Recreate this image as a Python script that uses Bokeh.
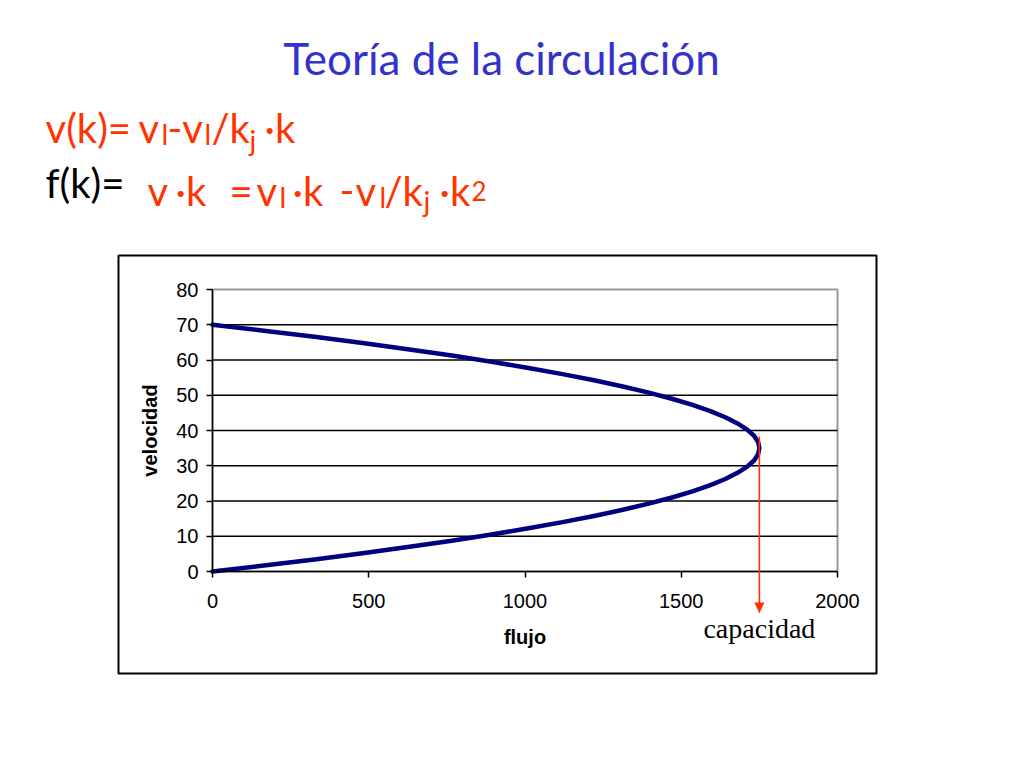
from bokeh.plotting import figure
from bokeh.models import Range1d, FixedTicker, Label, PolyAnnotation
from bokeh.embed import file_html
from bokeh.resources import INLINE

# ---- data ----
flujo = [0, 171, 333, 486, 630, 766, 893, 1011, 1120, 1221, 1313, 1396, 1470,
         1536, 1593, 1641, 1680, 1711, 1733, 1746, 1750,
         1746, 1733, 1711, 1680, 1641, 1593, 1536, 1470, 1396, 1313, 1221,
         1120, 1011, 893, 766, 630, 486, 333, 171, 0]
velocidad = [70, 68.25, 66.5, 64.75, 63, 61.25, 59.5, 57.75, 56, 54.25, 52.5,
             50.75, 49, 47.25, 45.5, 43.75, 42, 40.25, 38.5, 36.75, 35,
             33.25, 31.5, 29.75, 28, 26.25, 24.5, 22.75, 21, 19.25, 17.5,
             15.75, 14, 12.25, 10.5, 8.75, 7, 5.25, 3.5, 1.75, 0]
x_ticks = [0, 500, 1000, 1500, 2000]
y_ticks = [0, 10, 20, 30, 40, 50, 60, 70, 80]
capacidad = 1750
x_max, y_max = 2000, 80

title_text = "Teoría de la circulación"
RED = "#FF3300"
BLUE = "#3333CC"

# ---- layout: the frame covers the whole canvas; the plot area is placed
#      inside it with fixed-location axes ----
W, H = 1000, 740
PL, PR, PT, PB = 212, 837, 289, 571   # plot area in canvas pixels
sx = x_max / (PR - PL)                # data units per pixel
sy = y_max / (PB - PT)

def X(px):
    return (px - PL) * sx
def Y(py):
    return (PB - py) * sy

p = figure(width=W, height=H, output_backend="svg", toolbar_location=None,
           x_range=Range1d(X(0), X(W)), y_range=Range1d(Y(H), Y(0)),
           min_border=0, min_border_left=0, min_border_right=0,
           min_border_top=0, min_border_bottom=0,
           background_fill_color="white", border_fill_color="white")
p.outline_line_color = None
p.xgrid.visible = False
p.ygrid.visible = False

# outer chart box
p.quad(left=X(118), right=X(876), bottom=Y(673), top=Y(255),
       fill_color=None, line_color="black", line_width=2)

# plot-area border and horizontal gridlines
p.quad(left=0, right=x_max, bottom=0, top=y_max,
       fill_color=None, line_color="#999999", line_width=2)
grid_y = y_ticks[1:-1]
p.segment(x0=[0] * len(grid_y), x1=[x_max] * len(grid_y), y0=grid_y, y1=grid_y,
          line_color="black", line_width=1.5)

for ax in (p.xaxis[0], p.yaxis[0]):
    ax.fixed_location = 0
    ax.axis_line_color = "black"
    ax.axis_line_width = 1.5
    ax.major_tick_line_color = "black"
    ax.major_tick_line_width = 1.5
    ax.major_tick_out = 6
    ax.major_tick_in = 0
    ax.minor_tick_line_color = None
    ax.major_label_text_font = "Liberation Sans"
    ax.major_label_text_font_size = "20px"
    ax.major_label_text_color = "black"
    ax.axis_label_text_font = "Liberation Sans"
    ax.axis_label_text_font_size = "20px"
    ax.axis_label_text_font_style = "bold"
    ax.axis_label_text_color = "black"

p.xaxis.bounds = (0, x_max)
p.yaxis.bounds = (0, y_max)
p.xaxis.ticker = FixedTicker(ticks=x_ticks)
p.yaxis.ticker = FixedTicker(ticks=y_ticks)
p.xaxis.axis_label = "flujo"
p.yaxis.axis_label = "velocidad"
p.xaxis.major_label_standoff = 16
p.yaxis.major_label_standoff = 8
p.xaxis.axis_label_standoff = 15
p.yaxis.axis_label_standoff = 12

p.line(flujo, velocidad, line_color="#000080", line_width=4.5,
       line_join="round", line_cap="round")

# red arrow marking the capacity (shaft + head as one polygon)
a_top, a_tip, hw, hl, sw = 436, 613, 5, 11, 0.8
cx = capacidad
p.add_layout(PolyAnnotation(
    xs=[cx - sw * sx, cx + sw * sx, cx + sw * sx, cx + hw * sx, cx,
        cx - hw * sx, cx - sw * sx],
    ys=[Y(a_top), Y(a_top), Y(a_tip - hl), Y(a_tip - hl), Y(a_tip),
        Y(a_tip - hl), Y(a_tip - hl)],
    fill_color=RED, fill_alpha=1, line_color=None))

def put(text, px, base, size, color, font="Lato", align="left", k=0.39):
    # base = wanted baseline (canvas px); k compensates the renderer's baseline offset
    p.add_layout(Label(x=X(px), y=Y(base - k * size), text=text, text_align=align,
                       text_baseline="alphabetic", text_font=font,
                       text_font_size=f"{size}px", text_color=color))

put("capacidad", cx / sx + PL, 637, 28, "black", font="Liberation Serif",
    align="center", k=0.31)

# title
put(title_text, 501, 75, 44, BLUE, align="center")

# formulas, placed piece by piece (text, x px, baseline y px, size, colour)
pieces = [
    ("v(k)=", 45, 143, 40, RED),
    ("v", 138, 143, 40, RED),
    ("l", 161, 144, 28, RED),
    ("-v", 167, 143, 40, RED),
    ("l", 204, 144, 28, RED),
    ("/k", 211, 143, 40, RED),
    ("j", 249, 150, 28, RED),
    ("·k", 264, 143, 40, RED),
    ("f(k)=", 45, 198, 40, "black"),
    ("v", 147, 206, 40, RED),
    ("·k", 175, 206, 40, RED),
    ("=", 229, 206, 40, RED),
    ("v", 256, 206, 40, RED),
    ("l", 279, 207, 28, RED),
    ("·k", 292, 206, 40, RED),
    ("-", 339, 206, 40, RED),
    ("v", 355, 206, 40, RED),
    ("l", 379, 207, 28, RED),
    ("/k", 384, 206, 40, RED),
    ("j", 423, 211, 28, RED),
    ("·k", 439, 206, 40, RED),
    ("2", 471, 201, 26, RED),
]
for t, px, py, fs, col in pieces:
    put(t, px, py, fs, col)

open("out.html", "w").write(file_html(p, INLINE))
